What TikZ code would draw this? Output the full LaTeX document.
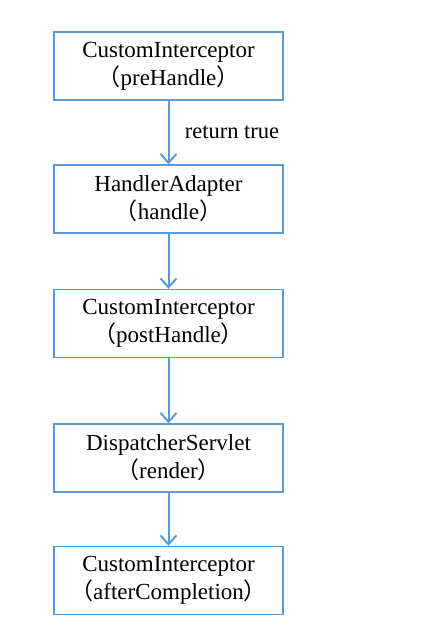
\documentclass[tikz,border=0pt]{standalone}
\usepackage{fontspec}
\setmainfont{Liberation Serif}
\newfontfamily\cjk{Noto Sans CJK SC}
\usetikzlibrary{arrows.meta}
\newcommand\lp{{\cjk （}}
\newcommand\rp{{\cjk ）}}
\definecolor{box_blue}{RGB}{91,155,213}
\definecolor{edge_blue}{RGB}{91,155,213}

\begin{document}
\begin{tikzpicture}[x=1pt,y=1pt,->,>={Straight Barb[length=9pt,width=16pt,line width=2pt]}]
    \tikzstyle{box}=[draw=box_blue, line width=1.3pt, rectangle, minimum width=229pt, minimum height=68pt, fill=white, text=black, align=center, font=\fontsize{23}{28}\selectfont, inner sep=0pt]
    \tikzstyle{flow}=[draw=edge_blue, line width=2pt]
    \useasboundingbox (0,0) rectangle (436,-632);

    \node[box] (pre)   at (168.5,-66)    {CustomInterceptor\\\lp preHandle\rp};
    \node[box] (hand)  at (168.5,-199)   {HandlerAdapter\\\lp handle\rp};
    \node[box] (post)  at (168.5,-323.5) {CustomInterceptor\\\lp postHandle\rp};
    \node[box] (rend)  at (168.5,-458)   {DispatcherServlet\\\lp render\rp};
    \node[box] (after) at (168.5,-580.5) {CustomInterceptor\\\lp afterCompletion\rp};
    \path
     (pre)  edge[flow] node[right=12pt,pos=0.5,font=\fontsize{22.5}{27}\selectfont] {return true} (hand)
     (hand) edge[flow] (post)
     (post) edge[flow] (rend)
     (rend) edge[flow] (after)
     ;
\end{tikzpicture}
\end{document}
